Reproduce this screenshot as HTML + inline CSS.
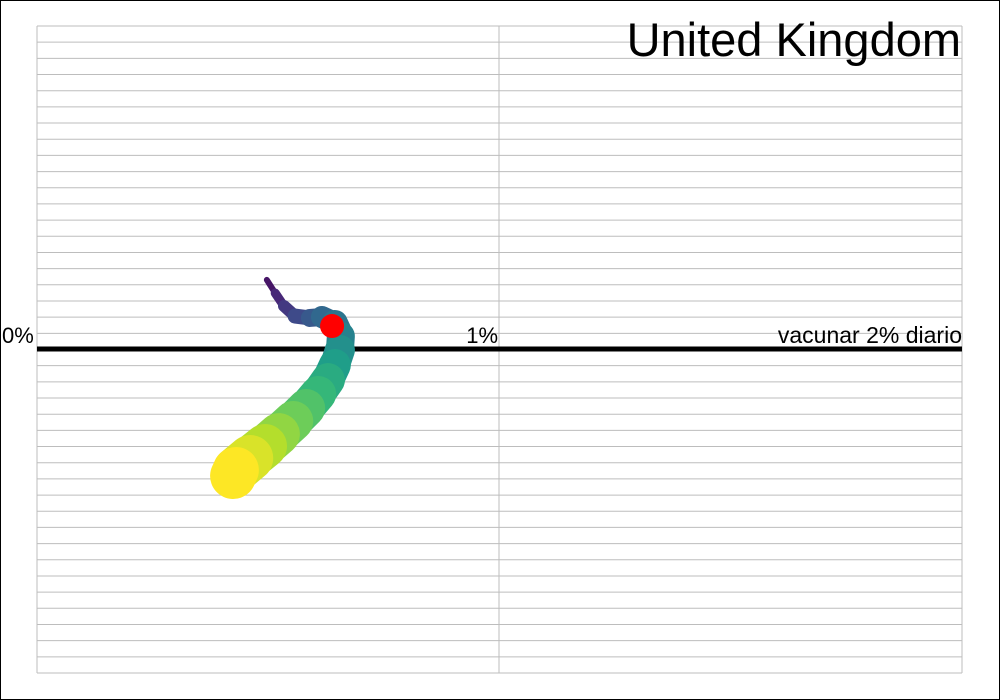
<!DOCTYPE html>
<html><head><meta charset="utf-8"><style>
html,body{margin:0;padding:0;background:#fff}
svg{display:block}
text{font-family:"Liberation Sans",sans-serif}
</style></head><body>
<svg id="chart" width="1000" height="700">
<rect x="0.5" y="0.5" width="999" height="699" fill="#fff" stroke="#000"/>
<g id="grid"></g>
<line x1="37" x2="962" y1="349" y2="349" stroke="#000" stroke-width="5"/>
<g id="worm"></g>
<text x="961" y="56" font-size="47" text-anchor="end">United Kingdom</text>
<text x="2" y="343" font-size="22">0%</text>
<text x="498" y="343" font-size="22" text-anchor="end">1%</text>
<text x="962" y="343" font-size="23" text-anchor="end">vacunar 2% diario</text>
</svg>
<script>
const xVals=[0.497,0.515,0.534,0.558,0.590,0.616,0.644,0.657,0.655,0.644,0.629,0.608,0.582,0.554,0.523,0.493,0.461,0.430,0.424];
const yVals=[4.27,3.46,2.66,2.04,1.92,1.98,1.61,0.80,-0.06,-0.99,-1.92,-2.78,-3.65,-4.45,-5.26,-6.00,-6.74,-7.48,-7.85];
const sizes=[1.5,3,4.5,6,7.5,9,11,13,14,15,16,17,18,19,20,21,22,23,23];
const current=[0.638,1.42];
const NS="http://www.w3.org/2000/svg";
const X0=37,X1=962,Y0=349,YU=16.175;
const xs=v=>X0+v*(X1-X0)/2;
const ys=v=>Y0-v*YU;
const grid=document.getElementById('grid');
for(let i=0;i<=40;i++){const y=26+i*YU;const l=document.createElementNS(NS,'line');
l.setAttribute('x1',37);l.setAttribute('x2',962);l.setAttribute('y1',y);l.setAttribute('y2',y);l.setAttribute('stroke','#bdbdbd');l.setAttribute('stroke-width','1');


grid.appendChild(l);}
[37,499,962].forEach(x=>{const l=document.createElementNS(NS,'line');
l.setAttribute('x1',x);l.setAttribute('x2',x);l.setAttribute('y1',26);l.setAttribute('y2',673);l.setAttribute('stroke','#bdbdbd');


grid.appendChild(l);});
const vir=[[68,1,84],[72,40,120],[62,74,137],[49,104,142],[38,130,142],[31,158,137],[53,183,121],[109,205,89],[180,222,44],[253,231,37]];
function col(t){const p=t*(vir.length-1);const i=Math.min(Math.floor(p),vir.length-2);const f=p-i;
const c=vir[i].map((a,k)=>Math.round(a+(vir[i+1][k]-a)*f));return `rgb(${c})`;}
const worm=document.getElementById('worm');
const n=xVals.length;
for(let i=1;i<n;i++){
  const seg=document.createElementNS(NS,'line');
  seg.setAttribute('x1',xs(xVals[i-1]));seg.setAttribute('y1',ys(yVals[i-1]));
  seg.setAttribute('x2',xs(xVals[i]));seg.setAttribute('y2',ys(yVals[i]));
  seg.setAttribute('stroke',col(i/(n-1)));
  seg.setAttribute('stroke-width',2*sizes[i]);
  seg.setAttribute('stroke-linecap','round');
  
  
  worm.appendChild(seg);
}
const r=document.createElementNS(NS,'circle');
r.setAttribute('cx',xs(current[0]));r.setAttribute('cy',ys(current[1]));r.setAttribute('r',12);r.setAttribute('fill','#ff0000');


worm.appendChild(r);
</script>
</body></html>
